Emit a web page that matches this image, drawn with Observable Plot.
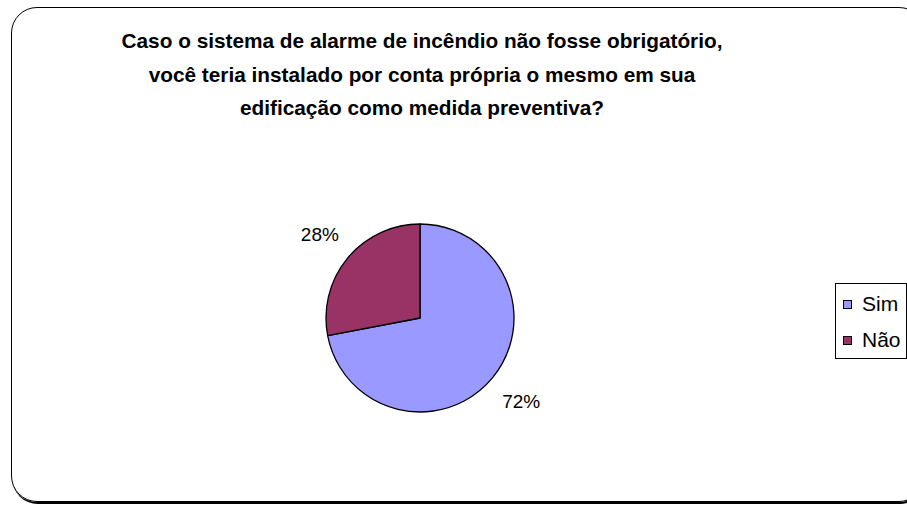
<!DOCTYPE html>
<html>
<head>
<meta charset="utf-8">
<script src="https://cdn.jsdelivr.net/npm/d3@7"></script>
<script src="https://cdn.jsdelivr.net/npm/@observablehq/plot@0.6"></script>
<style>
  html, body { margin: 0; padding: 0; background: #fff; overflow: hidden; }
  #wrap { position: relative; width: 907px; height: 505px; overflow: hidden; font-family: "Liberation Sans", Arial, sans-serif; }
  #frame { position: absolute; left: 11px; top: 7px; width: 914px; height: 495px; border: 1.5px solid #000; border-radius: 26px; box-shadow: 1px 2px 0 #000; box-sizing: border-box; }
  #title { position: absolute; left: 0; top: 24px; width: 844px; text-align: center; font-weight: bold; font-size: 20.8px; line-height: 33.5px; color: #000; }
  #chart { position: absolute; left: 0; top: 0; }
  #legend { position: absolute; left: 835px; top: 283px; width: 72px; height: 76px; border: 1px solid #000; box-sizing: border-box; background: #fff; font-size: 21px; }
  .item { position: absolute; left: 7px; height: 24px; display: flex; align-items: center; }
  .sw { width: 7px; height: 7px; border: 1px solid #000; margin-right: 10px; }
</style>
</head>
<body>
<div id="wrap">
  <div id="frame"></div>
  <div id="chart"></div>
  <div id="title"></div>
  <div id="legend"></div>
</div>
<script>
// ---- data ----
const titleLines = [
  "Caso o sistema de alarme de incêndio não fosse obrigatório,",
  "você teria instalado por conta própria o mesmo em sua",
  "edificação como medida preventiva?"
];
const categories = ["Sim", "Não"];
const values = [72, 28];
const labels = ["72%", "28%"];
const colors = ["#9999FF", "#993366"];

// ---- build ----
document.getElementById("title").innerHTML = titleLines.join("<br>");

const rows = categories.map((c, i) => ({cat: c, value: values[i], label: labels[i]}));
const arcs = d3.pie().sort(null).value(d => d.value)(rows);
const labelR = 1.39;
const labelRows = arcs.map(a => {
  const mid = (a.startAngle + a.endAngle) / 2;
  return {cat: a.data.cat, label: a.data.label, x: labelR * Math.sin(mid), y: labelR * Math.cos(mid)};
});

// wedge mark drawn via Plot's x/y/color scales
const pieMark = (index, scales) => {
  const {x, y, color} = scales;
  const r = Math.abs(x(1) - x(0));
  const cx = x(0), cy = y(0);
  const g = d3.create("svg:g").attr("transform", `translate(${cx},${cy})`);
  const arc = d3.arc().innerRadius(0).outerRadius(r);
  g.selectAll("path").data(arcs).join("path")
    .attr("d", arc)
    .attr("fill", d => color(d.data.cat))
    .attr("stroke", "#000")
    .attr("stroke-width", 1.3)
    .attr("stroke-linejoin", "round");
  return g.node();
};

const R = 94, CX = 420, CY = 318;
const chart = Plot.plot({
  width: 907,
  height: 505,
  margin: 0,
  style: {background: "transparent", fontFamily: "'Liberation Sans', Arial, sans-serif"},
  x: {domain: [-1, 1], range: [CX - R, CX + R], axis: null},
  y: {domain: [-1, 1], range: [CY + R, CY - R], axis: null},
  color: {domain: categories, range: colors},
  marks: [
    pieMark,
    Plot.text(labelRows, {x: "x", y: "y", text: "label", fontSize: 19, fill: "#000"})
  ]
});
document.getElementById("chart").appendChild(chart);

// legend
const legend = document.getElementById("legend");
categories.forEach((c, i) => {
  const item = document.createElement("div");
  item.className = "item";
  item.style.top = (8 + i * 36) + "px";
  const sw = document.createElement("div");
  sw.className = "sw";
  sw.style.background = colors[i];
  item.appendChild(sw);
  item.appendChild(document.createTextNode(c));
  legend.appendChild(item);
});
</script>
</body>
</html>
